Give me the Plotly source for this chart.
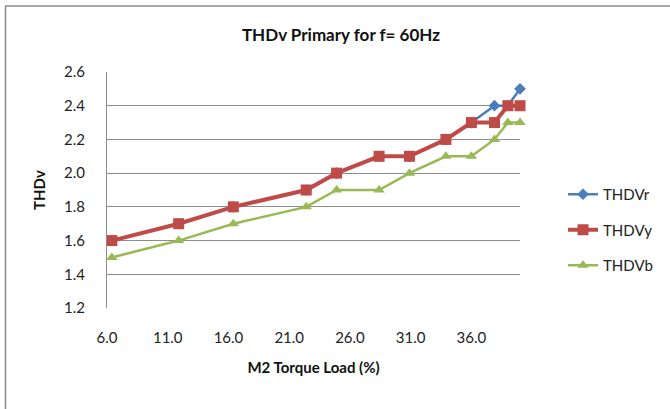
import plotly.graph_objects as go

torque = [6.4, 11.9, 16.4, 22.4, 24.9, 28.4, 30.9, 33.9, 36.0, 37.9, 39.0, 40.0]
thdv_r = [1.6, 1.7, 1.8, 1.9, 2.0, 2.1, 2.1, 2.2, 2.3, 2.4, 2.4, 2.5]
thdv_y = [1.6, 1.7, 1.8, 1.9, 2.0, 2.1, 2.1, 2.2, 2.3, 2.3, 2.4, 2.4]
thdv_b = [1.5, 1.6, 1.7, 1.8, 1.9, 1.9, 2.0, 2.1, 2.1, 2.2, 2.3, 2.3]

FONT = "Lato"
W, H = 670, 409
L, R, T, B = 107, 150, 72, 101
pw, ph = W - L - R, H - T - B

def px_x(p):
    return (p - L) / pw

def px_y(p):
    return (H - B - p) / ph

fig = go.Figure()
fig.add_trace(go.Scatter(x=torque, y=thdv_r, name="THDVr", mode="lines+markers",
                         line=dict(color="#4a7ebb", width=2.5),
                         marker=dict(symbol="diamond", size=9, color="#4a7ebb"),
                         legendgroup="r", cliponaxis=False))
fig.add_trace(go.Scatter(x=torque, y=thdv_y, name="THDVy", mode="lines+markers",
                         line=dict(color="#be4b48", width=4),
                         marker=dict(symbol="square", size=11, color="#be4b48"),
                         legendgroup="y", cliponaxis=False))
fig.add_trace(go.Scatter(x=torque, y=thdv_b, name="THDVb", mode="lines+markers",
                         line=dict(color="#98b954", width=2.5),
                         marker=dict(symbol="triangle-up", size=10, color="#98b954"),
                         legendgroup="b", cliponaxis=False))

fig.update_layout(
    width=W, height=H,
    margin=dict(l=L, r=R, t=T, b=B, pad=0),
    paper_bgcolor="white", plot_bgcolor="white",
    font=dict(family=FONT, size=15, color="#222"),
    title=dict(text="<b>THDv Primary for f= 60Hz</b>", x=px_x(341), xanchor="center",
               xref="paper", y=1 - 35 / H, yanchor="middle", yref="container",
               font=dict(family=FONT, size=17, color="#111")),
    xaxis=dict(range=[6, 40], tick0=6, dtick=5, tickformat=".1f",
               showgrid=False, zeroline=False, showline=False, ticks="",
               ticklabelstandoff=19, tickfont=dict(size=15),
               title=dict(text="<b>M2 Torque Load (%)</b>", standoff=17,
                          font=dict(size=15, color="#111"))),
    yaxis=dict(range=[1.2, 2.6], tick0=1.2, dtick=0.2, tickformat=".1f",
               showgrid=True, gridcolor="#8c8c8c", gridwidth=1,
               zeroline=False, showline=True, linecolor="#8c8c8c", linewidth=1,
               ticks="", ticklabelstandoff=18, tickfont=dict(size=15),
               title=dict(text="<b>THDv</b>", standoff=14,
                          font=dict(size=15, color="#111"))),
    legend=dict(x=px_x(563), xanchor="left", y=px_y(230), yanchor="middle",
                font=dict(size=15, color="#222"), tracegroupgap=13,
                bgcolor="rgba(0,0,0,0)"),
    shapes=[dict(type="rect", xref="paper", yref="paper",
                 x0=px_x(5.5), x1=px_x(700), y0=px_y(430), y1=px_y(6),
                 line=dict(color="#8c8c8c", width=1.5), layer="below")],
)

fig.write_html("out.html")
